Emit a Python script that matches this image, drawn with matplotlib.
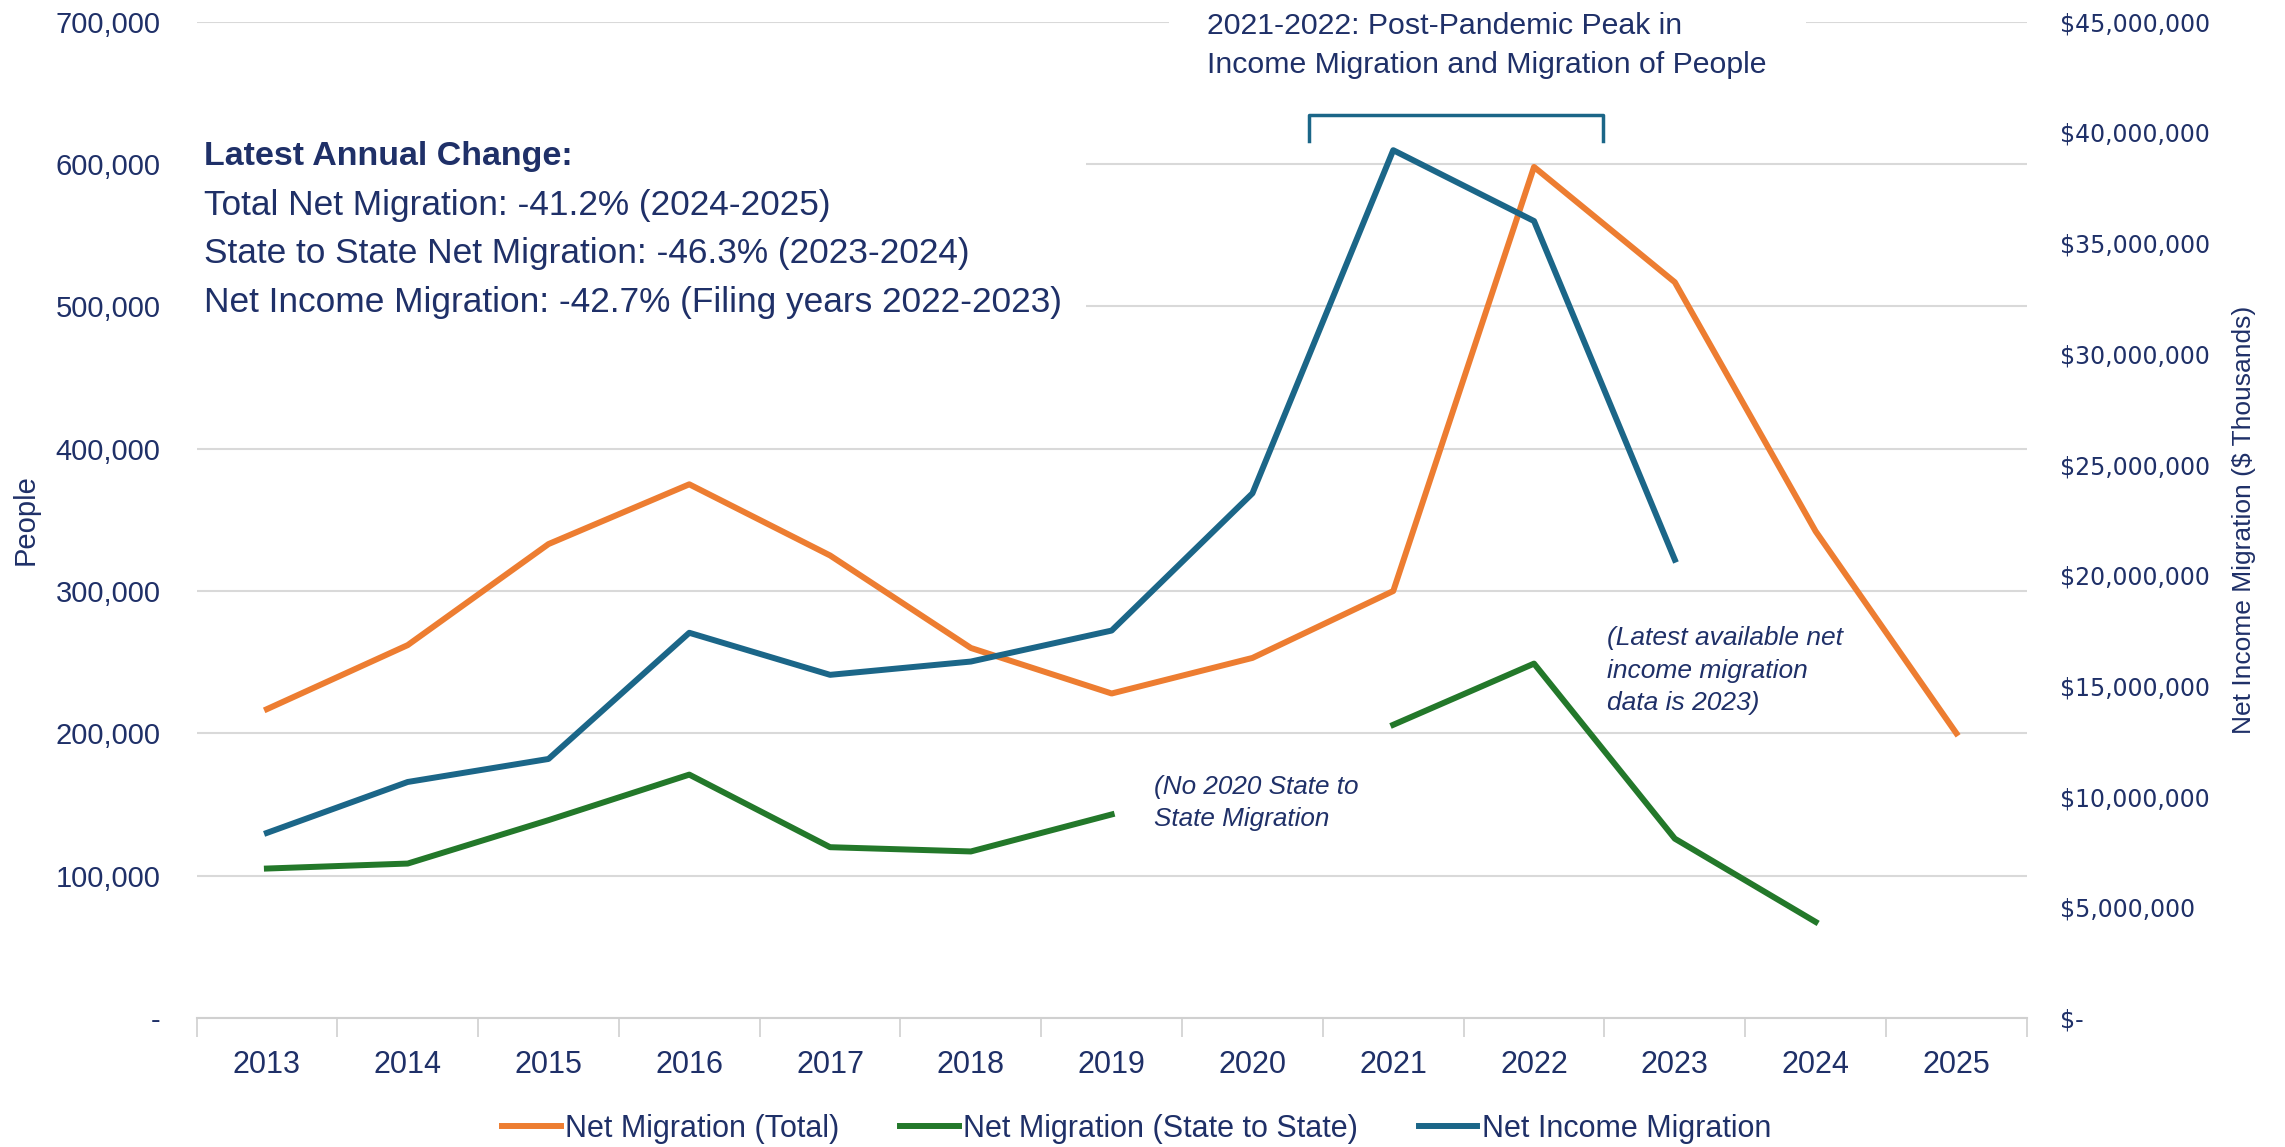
import numpy as np
import matplotlib.pyplot as plt
from matplotlib.patches import Rectangle
from matplotlib.ticker import FuncFormatter, MultipleLocator

# data
years = [2013, 2014, 2015, 2016, 2017, 2018, 2019, 2020, 2021, 2022, 2023, 2024, 2025]
net_total = [217000, 262000, 333000, 375000, 325000, 260000, 228000, 253000, 300000, 598000, 517000, 342000, 200000]
net_state = [105000, 108500, 139000, 171000, 120000, 117000, 143000, np.nan, 206000, 249000, 126000, 67500, np.nan]
net_income = [8.36e6, 10.66e6, 11.7e6, 17.4e6, 15.5e6, 16.1e6, 17.5e6, 23.7e6, 39.2e6, 36.0e6, 20.7e6, np.nan, np.nan]

ORANGE = '#ED7D31'
GREEN = '#23782A'
BLUE = '#1B6688'
NAVY = '#1F3068'
FONT = ['Liberation Sans', 'DejaVu Sans']

fig = plt.figure(figsize=(22.85, 11.47), dpi=100)
ax = fig.add_axes([0.086, 0.1125, 0.801, 0.8685])
ax2 = ax.twinx()

l1, = ax.plot(years, net_total, color=ORANGE, lw=4.3, label='Net Migration (Total)', zorder=4)
l2, = ax.plot(years, net_state, color=GREEN, lw=4.3, label='Net Migration (State to State)', zorder=4)
l3, = ax2.plot(years, net_income, color=BLUE, lw=4.3, label='Net Income Migration', zorder=4)

ax.set_xlim(2012.5, 2025.5)
ax.set_ylim(0, 700000)
ax2.set_ylim(0, 45e6)

ax.yaxis.set_major_locator(MultipleLocator(100000))
ax2.yaxis.set_major_locator(MultipleLocator(5e6))
ax.yaxis.set_major_formatter(FuncFormatter(lambda v, p: '-' if v == 0 else f'{int(v):,}'))
ax2.yaxis.set_major_formatter(FuncFormatter(lambda v, p: '$-' if v == 0 else f'${int(v):,}'))

ax.grid(axis='y', color='#D9D9D9', lw=1.5, zorder=0)
ax.set_axisbelow(True)
for s in ['top', 'left', 'right']:
    ax.spines[s].set_visible(False)
    ax2.spines[s].set_visible(False)
ax2.spines['bottom'].set_visible(False)
ax.spines['bottom'].set_color('#D0D0D0')
ax.spines['bottom'].set_linewidth(1.5)

ax.set_xticks(years)
ax.set_xticks(np.arange(2012.5, 2026, 1), minor=True)
ax.tick_params(axis='x', which='major', length=0, pad=23, labelsize=22, labelcolor=NAVY)
ax.tick_params(axis='x', which='minor', length=14, width=1.2, color='#D0D0D0')
ax.tick_params(axis='y', length=0, pad=26, labelsize=21, labelcolor=NAVY)
ax2.tick_params(axis='y', length=0, pad=24, labelsize=17, labelcolor=NAVY)
for t in ax.get_xticklabels() + ax.get_yticklabels():
    t.set_family(FONT)

fig.text(0.011, 0.5466, 'People', rotation=90, ha='center', va='center',
         fontsize=21, color=NAVY, family=FONT)
fig.text(0.982, 0.5466, 'Net Income Migration ($ Thousands)', rotation=90, ha='center',
         va='center', fontsize=19, color=NAVY, family=FONT)

# white backdrop behind the annotation block (hides gridlines like the original)
ax.add_patch(Rectangle((2012.45, 488000), 6.37, 152000, facecolor='white',
                       edgecolor='none', zorder=2))
ax.text(2012.55, 605000, 'Latest Annual Change:', fontsize=24.5, fontweight='bold',
        color=NAVY, family=FONT, va='center', ha='left', zorder=3)
ax.text(2012.55, 537000,
        'Total Net Migration: -41.2% (2024-2025)\n'
        'State to State Net Migration: -46.3% (2023-2024)\n'
        'Net Income Migration: -42.7% (Filing years 2022-2023)',
        fontsize=25.4, color=NAVY, family=FONT, va='center', ha='left',
        linespacing=1.6, zorder=3)

ax.text(2019.68, 683000, '2021-2022: Post-Pandemic Peak in\nIncome Migration and Migration of People',
        fontsize=21.8, color=NAVY, family=FONT, va='center', ha='left', linespacing=1.5,
        bbox=dict(facecolor='white', edgecolor='none', pad=28), zorder=3)

# bracket over peak years
ax.plot([2020.4, 2020.4, 2022.49, 2022.49], [616000, 634500, 634500, 616000],
        color=BLUE, lw=2.5, zorder=5, clip_on=False)

ax.text(2019.3, 151000, '(No 2020 State to\nState Migration', fontsize=18.8, style='italic',
        color=NAVY, family=FONT, va='center', ha='left', linespacing=1.45)
ax.text(2022.52, 244000, '(Latest available net\nincome migration\ndata is 2023)', fontsize=19,
        style='italic', color=NAVY, family=FONT, va='center', ha='left', linespacing=1.45)

fig.legend(handles=[l1, l2, l3], loc='center', bbox_to_anchor=(0.4975, 0.016), ncol=3,
           frameon=False, handlelength=1.9, handletextpad=0.15, columnspacing=2.0,
           prop={'family': FONT, 'size': 22}, labelcolor=NAVY)

fig.savefig('out.png', dpi=100)
